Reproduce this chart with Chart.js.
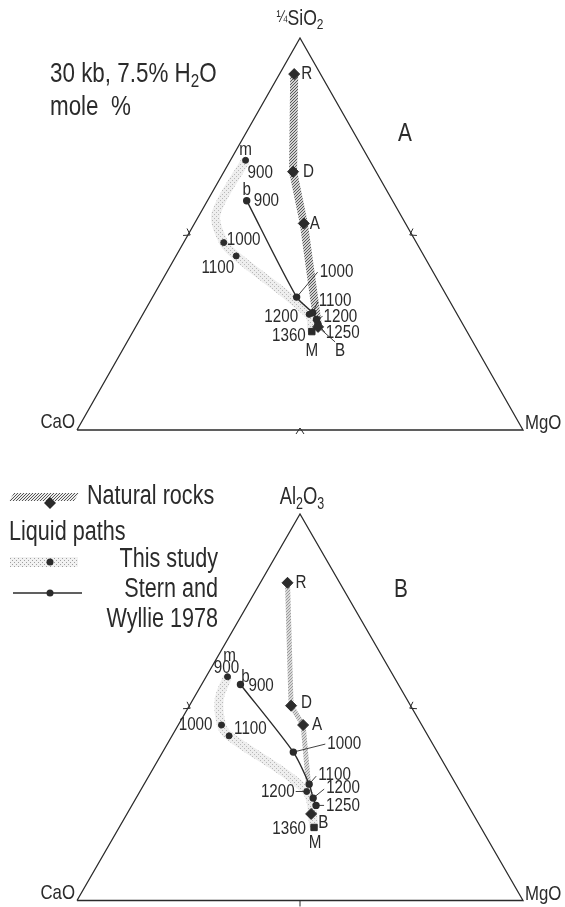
<!DOCTYPE html>
<html>
<head>
<meta charset="utf-8">
<script src="https://cdn.jsdelivr.net/npm/chart.js@4/dist/chart.umd.min.js"></script>
<style>
  body { margin: 0; background: #fff; }
  #wrap { position: relative; width: 565px; height: 907px; }
  canvas { position: absolute; left: 0; }
</style>
</head>
<body>
<div id="wrap">
  <canvas id="triA" width="565" height="460" style="top:0"></canvas>
  <canvas id="triB" width="565" height="447" style="top:460px"></canvas>
</div>
<script>
// compositions in mole %: [top component, MgO], CaO is the rest
var rockNames = ['R', 'D', 'A', 'B'];
var tempsThis = [900, 1000, 1100, 1200];
var tempsStern = [900, 1000, 1100, 1200, 1250];
var bulkLiquidus = 1360;

// diagram A: 1/4 SiO2 - CaO - MgO
var sio2Rocks = [[90.8, 3.3], [65.9, 15.5], [52.7, 24.5], [26.3, 40.9]];
var sio2Bulk = [25.1, 40.1];
var sio2This = [[68.8, 3.4], [47.8, 9.0], [44.4, 13.5], [29.5, 37.3]];
var sio2ThisBend = [55.1, 3.6];
var sio2Stern = [[58.5, 8.8], [33.9, 32.3], [29.9, 37.9], [28.2, 39.6], [27.0, 40.5]];

// diagram B: Al2O3 - CaO - MgO
var alRocks = [[82.2, 6.1], [50.4, 22.8], [45.4, 28.0], [22.4, 41.3]];
var alBulk = [18.9, 43.7];
var alThis = [[57.9, 4.8], [45.4, 9.7], [42.6, 12.8], [28.2, 37.4]];
var alThisBend = [52.2, 5.8];
var alStern = [[55.9, 8.7], [38.4, 29.3], [30.1, 37.0], [26.5, 39.7], [24.6, 41.3]];

var FONT = 'Liberation Sans';
var SX = 0.8; // narrow lettering
var INK = '#2b2b2b';

function xy(p) { return { x: p[1] + p[0] / 2, y: p[0] }; }

function hatch(bg, fg, step) {
    var c = document.createElement('canvas');
    c.width = c.height = step;
    var g = c.getContext('2d');
    g.fillStyle = bg;
    g.fillRect(0, 0, step, step);
    g.strokeStyle = fg;
    g.lineWidth = 1;
    g.beginPath();
    g.moveTo(0, step); g.lineTo(step, 0);
    g.moveTo(-1, 1); g.lineTo(1, -1);
    g.moveTo(step - 1, step + 1); g.lineTo(step + 1, step - 1);
    g.stroke();
    return g.createPattern(c, 'repeat');
}

function stipple(bg, fg) {
    var c = document.createElement('canvas');
    c.width = c.height = 4;
    var g = c.getContext('2d');
    g.fillStyle = bg;
    g.fillRect(0, 0, 4, 4);
    g.fillStyle = fg;
    g.fillRect(0, 0, 1, 1);
    g.fillRect(2, 2, 1, 1);
    return g.createPattern(c, 'repeat');
}

// parts: strings or {t, sub, small}
function drawRich(ctx, parts, x, y, size, align) {
    ctx.save();
    ctx.fillStyle = INK;
    ctx.textBaseline = 'middle';
    ctx.textAlign = 'left';
    var segs = parts.map(function (p) {
        if (typeof p === 'string') p = { t: p };
        var s = p.sub ? size * 0.68 : (p.small ? size * 0.75 : size);
        ctx.font = s + 'px "' + FONT + '"';
        return { t: p.t, s: s, dy: p.sub ? size * 0.28 : (p.small ? -size * 0.05 : 0),
                 w: ctx.measureText(p.t).width * SX };
    });
    var total = segs.reduce(function (a, s) { return a + s.w; }, 0);
    var cx = align === 'right' ? x - total : (align === 'center' ? x - total / 2 : x);
    segs.forEach(function (s) {
        ctx.font = s.s + 'px "' + FONT + '"';
        ctx.save();
        ctx.translate(cx, y + s.dy);
        ctx.scale(SX, 1);
        ctx.fillText(s.t, 0, 0);
        ctx.restore();
        cx += s.w;
    });
    ctx.restore();
}

// one drawing plugin per diagram; its settings stay in the closure
function ternaryPlugin(opts) {
    return {
        id: 'ternary',
        afterDatasetsDraw: function (chart) {
            var ctx = chart.ctx;
            var sx = chart.scales.x, sy = chart.scales.y;
            function P(p) { var q = xy(p); return [sx.getPixelForValue(q.x), sy.getPixelForValue(q.y)]; }

            // little marks halfway along each side
            var cao = P([0, 0]), top = P([100, 0]), mgo = P([0, 100]);
            var cen = [(cao[0] + top[0] + mgo[0]) / 3, (cao[1] + top[1] + mgo[1]) / 3];
            ctx.save();
            ctx.strokeStyle = INK;
            ctx.lineWidth = 1;
            [[cao, top], [top, mgo], [mgo, cao]].forEach(function (e, i) {
                var m = [(e[0][0] + e[1][0]) / 2, (e[0][1] + e[1][1]) / 2];
                var tl = Math.hypot(e[1][0] - e[0][0], e[1][1] - e[0][1]);
                var t = [(e[1][0] - e[0][0]) / tl, (e[1][1] - e[0][1]) / tl];
                var nl = Math.hypot(cen[0] - m[0], cen[1] - m[1]);
                var n = [(cen[0] - m[0]) / nl, (cen[1] - m[1]) / nl];
                ctx.beginPath();
                if (opts.ticks[i] === 'bar') {
                    ctx.moveTo(m[0], m[1]);
                    ctx.lineTo(m[0] - n[0] * 6, m[1] - n[1] * 6);
                } else {
                    ctx.moveTo(m[0] - n[0] * 4 + t[0] * 4, m[1] - n[1] * 4 + t[1] * 4);
                    ctx.lineTo(m[0] + n[0] * 2, m[1] + n[1] * 2);
                    ctx.lineTo(m[0] - n[0] * 4 - t[0] * 4, m[1] - n[1] * 4 - t[1] * 4);
                }
                ctx.stroke();
            });
            ctx.restore();

            // point labels, with leaders where the figure has them
            opts.labels.forEach(function (l) {
                var p = P(l.pt);
                if (l.leader) {
                    var a = [p[0] + l.leader[0], p[1] + l.leader[1]];
                    var d = Math.hypot(a[0] - p[0], a[1] - p[1]);
                    ctx.save();
                    ctx.strokeStyle = INK;
                    ctx.lineWidth = 0.9;
                    ctx.beginPath();
                    ctx.moveTo(a[0], a[1]);
                    ctx.lineTo(p[0] + (a[0] - p[0]) * 2.5 / d, p[1] + (a[1] - p[1]) * 2.5 / d);
                    ctx.stroke();
                    ctx.restore();
                }
                drawRich(ctx, [l.text], p[0] + l.dx, p[1] + l.dy, l.size || 19, l.align || 'left');
            });

            opts.texts.forEach(function (t) {
                drawRich(ctx, t.parts, t.x, t.y, t.size, t.align || 'left');
            });

            if (opts.legend) opts.legend(ctx);
        }
    };
}

function legendB(ctx) {
    ctx.save();
    // natural rocks swatch
    ctx.fillStyle = hatch('#ededed', '#555', 3);
    ctx.beginPath();
    ctx.moveTo(14, 33); ctx.lineTo(79, 33); ctx.lineTo(74, 41); ctx.lineTo(9, 41);
    ctx.closePath();
    ctx.fill();
    ctx.fillStyle = INK;
    ctx.beginPath();
    ctx.moveTo(50, 37); ctx.lineTo(56, 43); ctx.lineTo(50, 49); ctx.lineTo(44, 43);
    ctx.closePath();
    ctx.fill();
    // this study swatch
    ctx.fillStyle = stipple('#f2f2f2', '#a0a0a0');
    ctx.fillRect(10, 97, 68, 10);
    ctx.fillStyle = INK;
    ctx.beginPath(); ctx.arc(50, 102, 3.5, 0, Math.PI * 2); ctx.fill();
    // Stern and Wyllie swatch
    ctx.strokeStyle = INK;
    ctx.lineWidth = 1.5;
    ctx.beginPath(); ctx.moveTo(13, 133); ctx.lineTo(82, 133); ctx.stroke();
    ctx.beginPath(); ctx.arc(50, 133, 3.5, 0, Math.PI * 2); ctx.fill();
    ctx.restore();
    drawRich(ctx, ['Natural rocks'], 87, 37, 27);
    drawRich(ctx, ['Liquid paths'], 9, 73, 27);
    drawRich(ctx, ['This study'], 218, 100, 27, 'right');
    drawRich(ctx, ['Stern and'], 218, 130, 27, 'right');
    drawRich(ctx, ['Wyllie 1978'], 218, 160, 27, 'right');
}

function makeDatasets(rocks, bulk, liq, bend, stern, bandColor, bandWidth) {
    var corners = [[0, 0], [0, 100], [100, 0], [0, 0]];
    var thisPath = [liq[0], bend, liq[1], liq[2], liq[3], bulk];
    return [
        { data: rocks.map(xy), showLine: false, pointStyle: 'rectRot', pointRadius: 5.5,
          backgroundColor: INK, borderColor: INK, order: 1, clip: false },
        { data: [xy(bulk)], showLine: false, pointStyle: 'rect', pointRadius: 4.5,
          backgroundColor: INK, borderColor: INK, order: 1, clip: false },
        { data: liq.map(xy), showLine: false, pointRadius: 3, backgroundColor: INK,
          borderColor: INK, order: 2, clip: false },
        { data: stern.map(xy), showLine: true, borderColor: INK, borderWidth: 1.4, tension: 0.25,
          pointRadius: 3, backgroundColor: INK, order: 3, clip: false },
        { data: thisPath.map(xy), showLine: true, borderColor: stipple('#eeeeee', '#b8b8b8'),
          borderWidth: 9, tension: 0.3, pointRadius: 0, order: 5, clip: false },
        { data: rocks.map(xy), showLine: true, borderColor: bandColor, borderWidth: bandWidth,
          tension: 0, pointRadius: 0, order: 6, clip: false },
        { data: corners.map(xy), showLine: true, borderColor: INK, borderWidth: 1.3,
          tension: 0, pointRadius: 0, order: 4, clip: false }
    ];
}

function labelSet(rocks, bulk, liq, stern, L) {
    var out = [];
    rocks.forEach(function (p, i) { out.push(Object.assign({ text: rockNames[i], pt: p }, L.rocks[i])); });
    out.push(Object.assign({ text: 'M', pt: bulk }, L.bulk[0]));
    out.push(Object.assign({ text: String(bulkLiquidus), pt: bulk }, L.bulk[1]));
    out.push(Object.assign({ text: 'm', pt: liq[0] }, L.m));
    out.push(Object.assign({ text: 'b', pt: stern[0] }, L.b));
    liq.forEach(function (p, i) { out.push(Object.assign({ text: String(tempsThis[i]), pt: p }, L.liq[i])); });
    stern.forEach(function (p, i) { out.push(Object.assign({ text: String(tempsStern[i]), pt: p }, L.stern[i])); });
    return out;
}

function makeChart(id, pad, rocks, bulk, liq, bend, stern, bandColor, bandWidth, deco) {
    return new Chart(document.getElementById(id), {
        type: 'scatter',
        data: { datasets: makeDatasets(rocks, bulk, liq, bend, stern, bandColor, bandWidth) },
        options: {
            responsive: false,
            animation: false,
            events: [],
            layout: { padding: pad },
            scales: {
                x: { type: 'linear', min: 0, max: 100, display: false },
                y: { type: 'linear', min: 0, max: 100, display: false }
            },
            plugins: { legend: { display: false }, tooltip: { enabled: false } }
        },
        plugins: [ternaryPlugin(deco)]
    });
}

var chartA = makeChart('triA', { left: 77, right: 42, top: 38, bottom: 30 },
    sio2Rocks, sio2Bulk, sio2This, sio2ThisBend, sio2Stern, hatch('#d2d2d2', '#5a5a5a', 3), 8, {
    ticks: ['chev', 'chev', 'chev'],
    labels: labelSet(sio2Rocks, sio2Bulk, sio2This, sio2Stern, {
        rocks: [{ dx: 7, dy: 0 }, { dx: 10, dy: 0 }, { dx: 6, dy: 0 },
                { dx: 22, dy: 24, align: 'center', leader: [17, 15] }],
        bulk: [{ dx: 0, dy: 19, align: 'center' }, { dx: -6, dy: 4, align: 'right' }],
        m: { dx: 0, dy: -11, align: 'center' },
        b: { dx: 0, dy: -11, align: 'center' },
        liq: [{ dx: 2, dy: 12 }, { dx: 3, dy: -3 }, { dx: -2, dy: 12, align: 'right' },
              { dx: -11, dy: 2, align: 'right' }],
        stern: [{ dx: 7, dy: 0 }, { dx: 23, dy: -25, leader: [21, -25] }, { dx: 6, dy: -12, leader: [5, -11] },
                { dx: 7, dy: -3, leader: [6, -3] }, { dx: 8, dy: 9, leader: [7, 8] }]
    }),
    texts: [
        { parts: [{ t: '¼', small: true }, 'SiO', { t: '2', sub: true }], x: 300, y: 19, size: 22, align: 'center' },
        { parts: ['CaO'], x: 75, y: 422, size: 21, align: 'right' },
        { parts: ['MgO'], x: 525, y: 423, size: 21 },
        { parts: ['A'], x: 405, y: 134, size: 26, align: 'center' },
        { parts: ['30 kb, 7.5% H', { t: '2', sub: true }, 'O'], x: 50, y: 74, size: 28 },
        { parts: ['mole  %'], x: 50, y: 107, size: 28 }
    ]
});

var chartB = makeChart('triB', { left: 77, right: 42, top: 54, bottom: 4 },
    alRocks, alBulk, alThis, alThisBend, alStern, hatch('#dadada', '#9a9a9a', 3), 5, {
    ticks: ['chev', 'chev', 'bar'],
    labels: labelSet(alRocks, alBulk, alThis, alStern, {
        rocks: [{ dx: 8, dy: 0 }, { dx: 10, dy: -3 }, { dx: 9, dy: 0 }, { dx: 7, dy: 9 }],
        bulk: [{ dx: 1, dy: 15, align: 'center' }, { dx: -8, dy: 1, align: 'right' }],
        m: { dx: 2, dy: -21, align: 'center' },
        b: { dx: 5, dy: -8, align: 'center' },
        liq: [{ dx: -1, dy: -9, align: 'center' }, { dx: -9, dy: 0, align: 'right' },
              { dx: 5, dy: -7 }, { dx: -12, dy: 0, align: 'right', leader: [-11, 0] }],
        stern: [{ dx: 8, dy: 1 }, { dx: 34, dy: -8, leader: [32, -8] }, { dx: 9, dy: -9, leader: [7, -8] },
                { dx: 13, dy: -10, leader: [11, -9] }, { dx: 10, dy: 0, leader: [8, 0] }]
    }),
    texts: [
        { parts: ['Al', { t: '2', sub: true }, 'O', { t: '3', sub: true }], x: 302, y: 38, size: 23, align: 'center' },
        { parts: ['CaO'], x: 75, y: 433, size: 21, align: 'right' },
        { parts: ['MgO'], x: 525, y: 434, size: 21 },
        { parts: ['B'], x: 401, y: 130, size: 26, align: 'center' }
    ],
    legend: legendB
});
</script>
</body>
</html>
